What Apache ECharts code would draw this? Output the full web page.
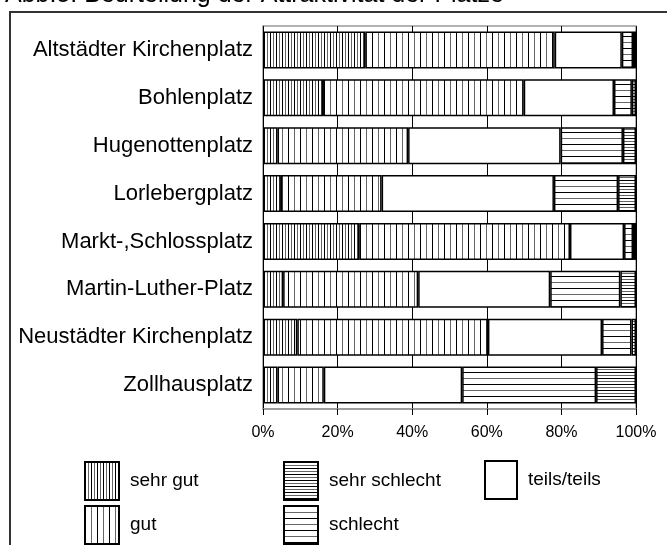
<!DOCTYPE html>
<html>
<head>
<meta charset="utf-8">
<script src="https://cdn.jsdelivr.net/npm/echarts@6/dist/echarts.min.js"></script>
<style>
html, body { margin: 0; padding: 0; background: #fff; }
#chart { width: 667px; height: 545px; }
</style>
</head>
<body>
<div id="chart"></div>
<script>
// Plätze, von oben nach unten
var categories = ['Altstädter Kirchenplatz', 'Bohlenplatz', 'Hugenottenplatz', 'Lorlebergplatz',
    'Markt-,Schlossplatz', 'Martin-Luther-Platz', 'Neustädter Kirchenplatz', 'Zollhausplatz'];
// Anteile in %
var sehrGut      = [27.4, 16.1,  3.9,  4.8, 25.8,  5.4,  9.2,  3.9];
var gut          = [50.8, 53.8, 35.0, 27.0, 56.5, 36.2, 51.1, 12.4];
var teilsTeils   = [18.0, 24.2, 40.9, 46.2, 14.5, 35.4, 30.6, 37.1];
var schlecht     = [ 3.0,  4.8, 16.7, 17.2,  2.4, 18.8,  7.9, 35.9];
var sehrSchlecht = [ 0.8,  1.1,  3.5,  4.8,  0.8,  4.2,  1.2, 10.7];
var xTicks = [0, 20, 40, 60, 80, 100];

// Schraffur als kleines Canvas-Muster
function hatch(period, vertical) {
    var c = document.createElement('canvas');
    var n = period * 2;
    c.width = vertical ? n : 4;
    c.height = vertical ? 4 : n;
    var ctx = c.getContext('2d');
    ctx.fillStyle = '#fff';
    ctx.fillRect(0, 0, c.width, c.height);
    ctx.fillStyle = '#000';
    if (vertical) ctx.fillRect(0, 0, 1, c.height); else ctx.fillRect(0, 0, c.width, 1);
    ctx.fillStyle = '#666';
    if (vertical) ctx.fillRect(period, 0, 1, c.height); else ctx.fillRect(0, period, c.width, 1);
    return { image: c, repeat: 'repeat' };
}

var font = 'Liberation Sans, Arial, sans-serif';
var chart = echarts.init(document.getElementById('chart'), null, { renderer: 'canvas' });

function bar(name, data, color) {
    return {
        name: name,
        type: 'bar',
        stack: 'total',
        data: data,
        barWidth: 37,
        itemStyle: { color: color, borderColor: '#000', borderWidth: 1.5 },
        emphasis: { disabled: true },
        animation: false
    };
}

var legendBase = {
    orient: 'vertical', top: 461, padding: 0,
    icon: 'rect',
    itemWidth: 34, itemHeight: 38, itemGap: 4,
    textStyle: { fontSize: 19, color: '#000', fontFamily: font, padding: [0, 0, 0, 6] }
};

chart.setOption({
    animation: false,
    grid: {
        left: 263, right: 31, top: 26, bottom: 136,
        show: true, borderColor: '#999', borderWidth: 1.5
    },
    xAxis: {
        type: 'value',
        min: 0, max: 100, interval: 20,
        axisLine: { show: true, lineStyle: { color: '#999', width: 1.5 } },
        axisTick: { show: true, length: 6, lineStyle: { color: '#000' } },
        splitLine: { show: true, lineStyle: { color: '#000', width: 1 } },
        axisLabel: {
            margin: 16, fontSize: 16, color: '#000', fontFamily: font,
            formatter: function (v) { return xTicks.indexOf(v) >= 0 ? v + '%' : ''; }
        }
    },
    yAxis: {
        type: 'category',
        inverse: true,
        data: categories,
        axisLine: { show: false },
        axisTick: { show: false },
        axisLabel: { margin: 10, fontSize: 22, color: '#000', fontFamily: font }
    },
    legend: [
        Object.assign({}, legendBase, { data: ['sehr gut', 'gut'], left: 84 }),
        Object.assign({}, legendBase, { data: ['sehr schlecht', 'schlecht'], left: 283 }),
        Object.assign({}, legendBase, { data: ['teils/teils'], left: 484, top: 460, itemWidth: 32 })
    ],
    graphic: [{
        type: 'rect',
        shape: { x: 10, y: 12, width: 700, height: 600 },
        style: { fill: 'none', stroke: '#333', lineWidth: 2 },
        silent: true
    }, {
        type: 'text',
        style: {
            x: 5, y: -4.5, text: 'Abb.5: Beurteilung der Attraktivität der Plätze',
            font: '25px ' + font, fill: '#000', verticalAlign: 'middle'
        },
        silent: true
    }],
    series: [
        bar('sehr gut', sehrGut, hatch(3, true)),
        bar('gut', gut, hatch(6, true)),
        bar('teils/teils', teilsTeils, '#fff'),
        bar('schlecht', schlecht, hatch(6, false)),
        bar('sehr schlecht', sehrSchlecht, hatch(3, false))
    ]
});
</script>
</body>
</html>
